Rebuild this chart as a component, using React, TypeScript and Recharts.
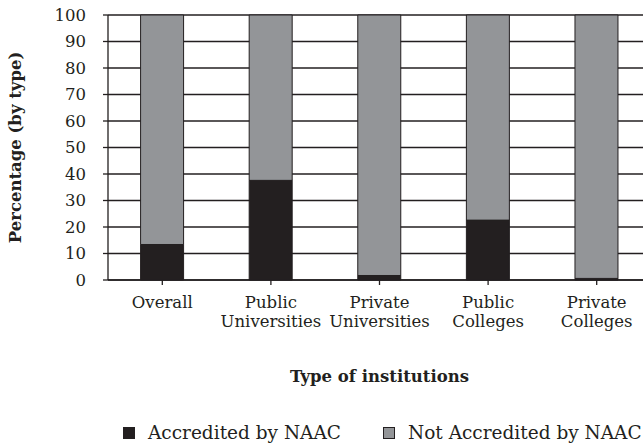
import React from "react"
import { BarChart, Bar, XAxis, YAxis, CartesianGrid, Legend, Label } from "recharts"

const categories = ["Overall", "Public Universities", "Private Universities", "Public Colleges", "Private Colleges"]
const accredited = [13.4, 37.6, 1.7, 22.6, 0.6]
const notAccredited = accredited.map((v) => 100 - v)
const yTicks = [0, 10, 20, 30, 40, 50, 60, 70, 80, 90, 100]
const seriesNames = ["Accredited by NAAC", "Not Accredited by NAAC"]

const data = categories.map((name, i) => ({
  name,
  accredited: accredited[i],
  notAccredited: notAccredited[i],
}))

const FONT = "DejaVu Serif"
const INK = "#231f20"
const GRAY = "#939598"

const XTick = (props: any) => {
  const { x, y, payload } = props
  const parts = String(payload.value).split(" ")
  const lines = parts.length > 1 ? [parts[0], parts.slice(1).join(" ")] : parts
  return (
    <g transform={`translate(${x},${y})`}>
      {lines.map((line, i) => (
        <text key={i} x={0} y={21 + i * 19} textAnchor="middle" fill={INK} style={{ fontFamily: FONT, fontSize: 16.5 }}>
          {line}
        </text>
      ))}
    </g>
  )
}

const LegendContent = () => {
  const colors = [INK, GRAY]
  return (
    <div style={{ display: "flex", fontFamily: FONT, fontSize: 18.5, color: INK }}>
      {seriesNames.map((name, i) => (
        <div key={name} style={{ display: "flex", alignItems: "center", width: i === 0 ? 260 : 280 }}>
          <span
            style={{
              display: "inline-block",
              width: 10,
              height: 10,
              background: colors[i],
              border: `1px solid ${INK}`,
              marginRight: 13,
            }}
          />
          <span>{name}</span>
        </div>
      ))}
    </div>
  )
}

export default function App() {
  return (
    <div style={{ position: "absolute", left: 0, top: 0, width: 643, height: 445, overflow: "hidden", background: "#fff" }}>
      <BarChart
        width={660}
        height={445}
        data={data}
        margin={{ top: 15, right: 9, left: 0, bottom: 45 }}
        barCategoryGap="30%"
      >
        <CartesianGrid vertical={false} stroke={INK} strokeWidth={1.3} />
        <XAxis
          dataKey="name"
          interval={0}
          height={120}
          tick={<XTick />}
          tickLine={{ stroke: INK, strokeWidth: 1.3 }}
          axisLine={{ stroke: INK, strokeWidth: 1.3 }}
          tickSize={5}
        >
          <Label
            value="Type of institutions"
            position="insideBottom"
            offset={18}
            style={{ fontFamily: FONT, fontSize: 16.5, fontWeight: "bold", fill: INK }}
          />
        </XAxis>
        <YAxis
          width={108}
          domain={[0, 100]}
          ticks={yTicks}
          interval={0}
          tickSize={5}
          tickMargin={17}
          tick={{ style: { fontFamily: FONT, fontSize: 16.5 }, fill: INK }}
          tickLine={{ stroke: INK, strokeWidth: 1.3 }}
          axisLine={{ stroke: INK, strokeWidth: 1.3 }}
        >
          <Label
            value="Percentage (by type)"
            angle={-90}
            position="insideLeft"
            offset={15}
            style={{ fontFamily: FONT, fontSize: 16.5, fontWeight: "bold", fill: INK, textAnchor: "middle" }}
          />
        </YAxis>
        <Legend
          layout="vertical"
          align="center"
          verticalAlign="middle"
          content={<LegendContent />}
          wrapperStyle={{ top: 422, left: 123, width: 540 }}
        />
        <Bar dataKey="accredited" name={seriesNames[0]} stackId="a" fill={INK} stroke={INK} strokeWidth={1} isAnimationActive={false} />
        <Bar dataKey="notAccredited" name={seriesNames[1]} stackId="a" fill={GRAY} stroke={INK} strokeWidth={1} isAnimationActive={false} />
      </BarChart>
    </div>
  )
}
